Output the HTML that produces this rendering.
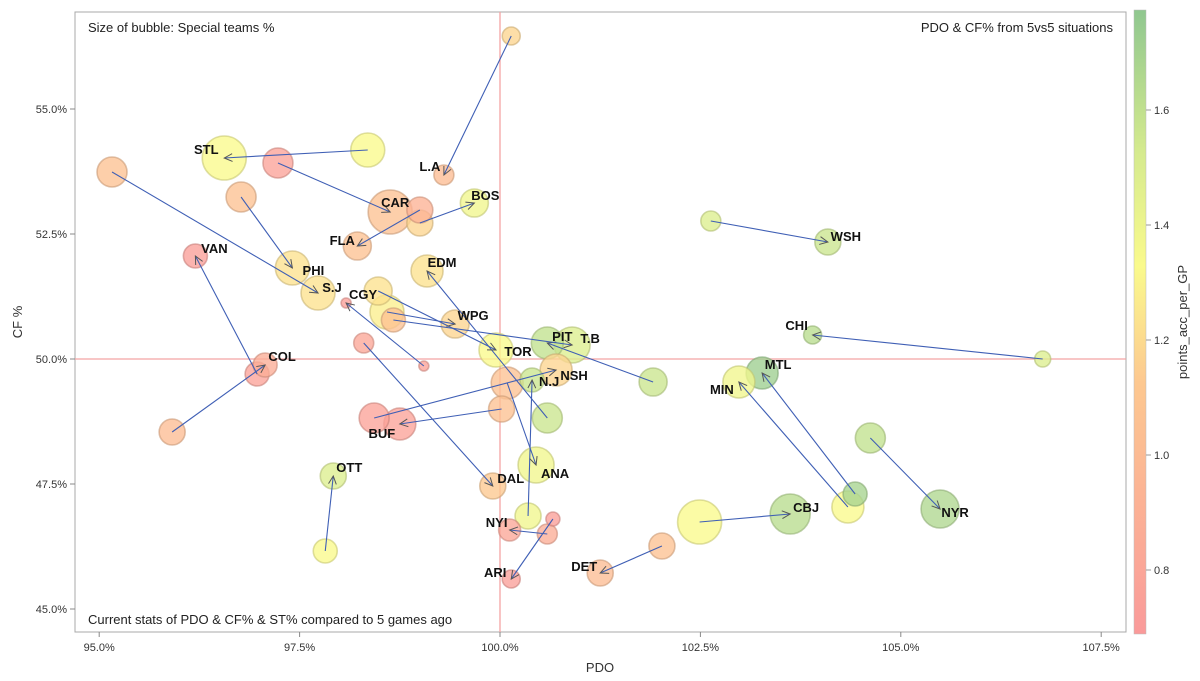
<!DOCTYPE html>
<html><head><meta charset="utf-8"><style>
html,body{margin:0;padding:0;background:#fff;}
svg{display:block;font-family:"Liberation Sans",Arial,sans-serif;}
</style></head><body>
<svg id="chart" width="1200" height="681" viewBox="0 0 1200 681">
<defs>
<linearGradient id="cbar" x1="0" y1="1" x2="0" y2="0">
<stop offset="0" stop-color="#fa9a9a"/>
<stop offset="0.403" stop-color="#fdc890"/>
<stop offset="0.589" stop-color="#fafa8c"/>
<stop offset="0.776" stop-color="#d4ea8e"/>
<stop offset="1" stop-color="#8fc78f"/>
</linearGradient>
</defs>
<rect x="75" y="12" width="1051" height="620" fill="#fff" stroke="#a8a8a8"/>
<g id="grid"></g>
<g id="lines"></g>
<g id="bubbles"></g>
<g id="labels"></g>
<text x="88" y="32" font-size="13" fill="#222">Size of bubble: Special teams %</text>
<text x="1113" y="32" font-size="13" fill="#222" text-anchor="end">PDO &amp; CF% from 5vs5 situations</text>
<text x="88" y="624" font-size="13" fill="#222">Current stats of PDO &amp; CF% &amp; ST% compared to 5 games ago</text>
<text x="600" y="672" font-size="13" fill="#333" text-anchor="middle">PDO</text>
<text transform="translate(22,322) rotate(-90)" font-size="13" fill="#333" text-anchor="middle">CF %</text>
<rect x="1134" y="10" width="12" height="624" fill="url(#cbar)" stroke="#bbb" stroke-width="0.5"/>
<g id="cticks"></g>
<text transform="translate(1187,322) rotate(-90)" font-size="13" fill="#333" text-anchor="middle">points_acc_per_GP</text>
</svg>
<script>
const teams=["STL","CAR","S.J","PHI","L.A","BOS","FLA","EDM","VAN","COL","CGY","TOR","WPG","PIT","T.B","NSH","N.J","ANA","BUF","DAL","OTT","NYI","ARI","DET","WSH","CHI","MTL","MIN","CBJ","NYR"];
const pdoNow=[96.56,98.63,97.73,97.41,99.30,99.68,98.22,99.09,96.20,97.07,98.08,99.95,99.44,100.59,100.90,100.70,100.40,100.45,98.75,99.91,97.92,100.12,100.14,101.25,104.09,103.90,103.27,102.98,103.62,105.49];
const cfNow=[54.02,52.94,51.32,51.82,53.68,53.12,52.26,51.76,52.06,49.88,51.12,50.18,50.70,50.32,50.28,49.78,49.58,47.88,48.70,47.46,47.66,46.58,45.60,45.72,52.34,50.48,49.72,49.54,46.90,47.00];
const pdoPrev=[98.35,97.23,95.16,96.77,100.14,99.00,99.00,100.59,96.97,95.91,99.05,98.48,98.59,101.91,98.67,98.43,100.35,100.09,100.02,98.30,97.82,100.59,100.66,102.02,102.63,106.77,104.43,104.34,102.49,104.62];
const cfPrev=[54.18,53.92,53.74,53.24,56.46,52.72,52.98,48.82,49.70,48.54,49.86,51.36,50.94,49.54,50.78,48.82,46.86,49.52,49.00,50.32,46.16,46.50,46.80,46.26,52.76,50.00,47.30,47.04,46.74,48.42];
const stNow=[110,110,85,85,50,70,70,80,60,60,25,85,70,80,90,80,60,90,80,65,65,55,45,65,65,45,80,80,100,95];
const stPrev=[85,75,75,75,45,65,65,75,60,65,25,70,85,70,60,75,65,80,65,50,60,50,35,65,50,40,60,80,110,75];
const ptsNow=[1.2,0.95,1.1,1.1,0.92,1.25,0.95,1.1,0.72,0.82,0.72,1.2,1.05,1.5,1.35,1.05,1.45,1.25,0.75,1.0,1.35,0.78,0.72,0.92,1.45,1.55,1.7,1.25,1.55,1.6];
const ptsPrev=[1.2,0.75,0.95,0.95,1.05,1.05,0.85,1.45,0.75,0.92,0.75,1.1,1.15,1.45,0.95,0.75,1.25,0.95,0.95,0.78,1.2,0.82,0.72,0.95,1.35,1.35,1.65,1.2,1.2,1.5];
const labDx=[-18,5,14,21,-14,11,-15,15,19,17,17,22,18,15,18,18,17,19,-18,18,16,-13,-16,-16,18,-16,16,-17,16,15];
const labDy=[-9,-10,-6,2,-9,-8,-6,-9,-8,-9,-9,1,-9,-7,-7,5,1,8,9,-8,-9,-8,-7,-7,-6,-10,-9,7,-7,3];
const xTicks=[95,97.5,100,102.5,105,107.5];
const yTicks=[45,47.5,50,52.5,55];
const cTicks=[0.8,1.0,1.2,1.4,1.6];

const NS="http://www.w3.org/2000/svg";
const X=v=>500+(v-100)*80.16;
const Y=v=>359-(v-50)*50;
const C=v=>570-(v-0.8)*575;
const R=s=>s/5;
function mk(tag,attrs,parent){const e=document.createElementNS(NS,tag);for(const k in attrs)e.setAttribute(k,attrs[k]);parent.appendChild(e);return e;}
const stops=[[0.689,[250,154,154]],[1.0,[253,200,144]],[1.2,[250,250,140]],[1.4,[212,234,142]],[1.774,[143,199,143]]];
function col(v,dark){let a=stops[0],b=stops[stops.length-1];for(let i=0;i<stops.length-1;i++){if(v>=stops[i][0]&&v<=stops[i+1][0]){a=stops[i];b=stops[i+1];break;}}if(v<stops[0][0])b=a;let t=b[0]===a[0]?0:(v-a[0])/(b[0]-a[0]);const c=a[1].map((x,i)=>Math.round((x+(b[1][i]-x)*t)*(dark?0.8:1)));return `rgb(${c.join(',')})`;}

const grid=document.getElementById('grid');
xTicks.forEach(t=>{
 const l=mk('line',{x1:X(t),x2:X(t),y1:632,y2:637,stroke:'#888'},grid);
 
 
 const tx=mk('text',{x:X(t),y:651,'font-size':11,fill:'#333','text-anchor':'middle'},grid);tx.textContent=t.toFixed(1)+'%';
 
 
});
yTicks.forEach(t=>{
 const l=mk('line',{x1:70,x2:75,y1:Y(t),y2:Y(t),stroke:'#888'},grid);
 
 
 const tx=mk('text',{x:67,y:Y(t)+4,'font-size':11,fill:'#333','text-anchor':'end'},grid);tx.textContent=t.toFixed(1)+'%';
 
 
});
const rv=mk('line',{x1:X(100),x2:X(100),y1:12,y2:632,stroke:'#f4a3a3','stroke-width':1.3},grid);


const rh=mk('line',{x1:75,x2:1126,y1:Y(50),y2:Y(50),stroke:'#f4a3a3','stroke-width':1.3},grid);



const ct=document.getElementById('cticks');
cTicks.forEach(t=>{
 const l=mk('line',{x1:1146,x2:1151,y1:C(t),y2:C(t),stroke:'#999'},ct);
 
 
 const tx=mk('text',{x:1154,y:C(t)+4,'font-size':11,fill:'#333'},ct);tx.textContent=t.toFixed(1);
 
 
});

const gB=document.getElementById('bubbles'),gL=document.getElementById('lines'),gT=document.getElementById('labels');
const all=[];
teams.forEach((t,i)=>{all.push({x:X(pdoPrev[i]),y:Y(cfPrev[i]),r:R(stPrev[i]),p:ptsPrev[i],n:'prev-bubble-'+t});all.push({x:X(pdoNow[i]),y:Y(cfNow[i]),r:R(stNow[i]),p:ptsNow[i],n:'bubble-'+t});});
all.sort((a,b)=>b.r-a.r);
all.forEach(b=>{
 const c=mk('circle',{cx:b.x,cy:b.y,r:b.r,fill:col(b.p),'fill-opacity':0.78,stroke:col(b.p,true),'stroke-opacity':0.6,'stroke-width':1.6},gB);
 
 
});
teams.forEach((t,i)=>{
 const x1=X(pdoPrev[i]),y1=Y(cfPrev[i]),x2=X(pdoNow[i]),y2=Y(cfNow[i]);
 const g=mk('g',{},gT);
 
 
 mk('line',{x1:x1,y1:y1,x2:x2,y2:y2,stroke:'#3f5fb5','stroke-width':1.1},g);
 const a=Math.atan2(y2-y1,x2-x1),L=9,w=0.45;
 mk('polyline',{points:`${x2-L*Math.cos(a-w)},${y2-L*Math.sin(a-w)} ${x2},${y2} ${x2-L*Math.cos(a+w)},${y2-L*Math.sin(a+w)}`,fill:'none',stroke:'#555','stroke-width':1},g);
 const tx=mk('text',{x:x2+labDx[i],y:y2+labDy[i]+5,'font-size':13,'font-weight':'bold',fill:'#111','text-anchor':'middle'},g);
 tx.textContent=t;
 
 
});
</script>
</body></html>
